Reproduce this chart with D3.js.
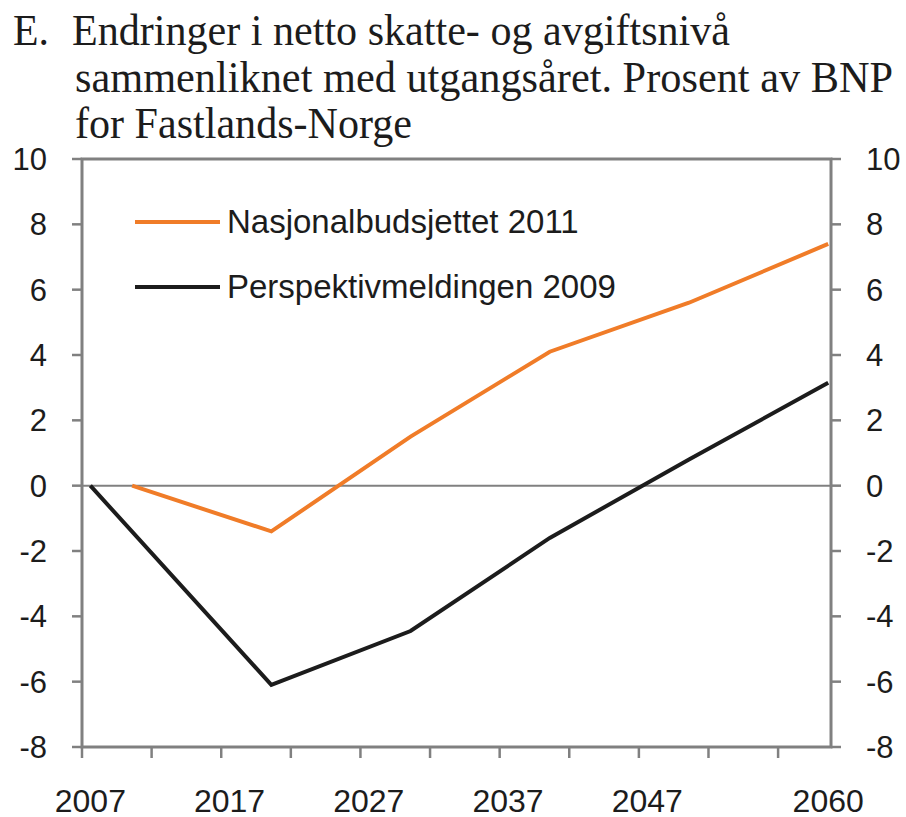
<!DOCTYPE html>
<html>
<head>
<meta charset="utf-8">
<script src="https://cdn.jsdelivr.net/npm/d3@7"></script>
<style>
  body { margin: 0; background: #fff; }
  svg { display: block; }
</style>
</head>
<body>
<svg id="chart" width="906" height="817"></svg>
<script>
// data
var years = [2007, 2010, 2020, 2030, 2040, 2050, 2060];
var nasjonalbudsjettet2011 = [null, 0, -1.4, 1.5, 4.1, 5.6, 7.4];
var perspektivmeldingen2009 = [0, null, -6.1, -4.45, -1.6, 0.8, 3.15];
var yTicks = [-8, -6, -4, -2, 0, 2, 4, 6, 8, 10];
var xLabels = [2007, 2017, 2027, 2037, 2047, 2060];
var seriesNames = ["Nasjonalbudsjettet 2011", "Perspektivmeldingen 2009"];
var titleLines = ["Endringer i netto skatte- og avgiftsnivå",
                  "sammenliknet med utgangsåret. Prosent av BNP",
                  "for Fastlands-Norge"];

var plotL = 82, plotR = 831, plotT = 159, plotB = 747;
var grey = "#808080", ink = "#1c1c1c", orange = "#f07c28";

var svg = d3.select("#chart");

var x = d3.scaleLinear().domain([2006.4, 2060.2]).range([plotL, plotR]);
var y = d3.scaleLinear().domain([-8, 10]).range([plotB, plotT]);

// title (condensed serif)
var title = svg.append("g").attr("font-family", "'Liberation Serif', 'Times New Roman', serif")
  .attr("font-size", 45).attr("fill", ink);
title.append("text").attr("x", 13).attr("y", 45)
  .attr("textLength", 36).attr("lengthAdjust", "spacingAndGlyphs").text("E.");
var titleWidths = [658, 818, 337];
titleLines.forEach(function(t, i) {
  title.append("text")
    .attr("x", i == 0 ? 72 : 75)
    .attr("y", 45 + i * 46.5)
    .attr("textLength", titleWidths[i])
    .attr("lengthAdjust", "spacingAndGlyphs")
    .text(t);
});

// zero line
svg.append("line")
  .attr("x1", plotL).attr("x2", plotR)
  .attr("y1", y(0)).attr("y2", y(0))
  .attr("stroke", grey).attr("stroke-width", 2);

// frame
svg.append("rect")
  .attr("x", plotL).attr("y", plotT)
  .attr("width", plotR - plotL).attr("height", plotB - plotT)
  .attr("fill", "none").attr("stroke", grey).attr("stroke-width", 3);

// y ticks + labels on both sides
var labels = svg.append("g").attr("font-family", "'Liberation Sans', Arial, sans-serif")
  .attr("font-size", 31).attr("fill", ink);
yTicks.forEach(function(v) {
  svg.append("line").attr("x1", plotL - 10).attr("x2", plotL)
    .attr("y1", y(v)).attr("y2", y(v)).attr("stroke", grey).attr("stroke-width", 2.5);
  svg.append("line").attr("x1", plotR).attr("x2", plotR + 10)
    .attr("y1", y(v)).attr("y2", y(v)).attr("stroke", grey).attr("stroke-width", 2.5);
  labels.append("text").attr("x", 47).attr("y", y(v) + 11).attr("text-anchor", "end").text(v);
  labels.append("text").attr("x", 866).attr("y", y(v) + 11).attr("text-anchor", "start").text(v);
});

// x ticks every ~5 years
d3.range(0, 11).forEach(function(k) {
  var xv = x(2006.4 + 5 * k);
  svg.append("line").attr("x1", xv).attr("x2", xv)
    .attr("y1", plotB).attr("y2", plotB + 11)
    .attr("stroke", grey).attr("stroke-width", 2.5);
});
labels.selectAll(".xlab").data(xLabels).enter().append("text")
  .attr("class", "xlab")
  .attr("x", function(d) { return x(d); })
  .attr("y", 812)
  .attr("font-size", 32)
  .attr("text-anchor", "middle")
  .text(function(d) { return d; });

// series lines - missing years are skipped, not broken
var line = d3.line()
  .x(function(d) { return x(d[0]); })
  .y(function(d) { return y(d[1]); });

function pairs(vals) {
  return years.map(function(yr, i) { return [yr, vals[i]]; })
    .filter(function(d) { return d[1] != null; });
}

svg.append("path")
  .datum(pairs(perspektivmeldingen2009))
  .attr("d", line).attr("fill", "none").attr("stroke", ink)
  .attr("stroke-width", 4).attr("stroke-linejoin", "miter");

svg.append("path")
  .datum(pairs(nasjonalbudsjettet2011))
  .attr("d", line).attr("fill", "none").attr("stroke", orange)
  .attr("stroke-width", 4).attr("stroke-linejoin", "miter");

// legend
var legend = svg.append("g").attr("font-family", "'Liberation Sans', Arial, sans-serif")
  .attr("font-size", 33).attr("fill", ink);
[orange, ink].forEach(function(c, i) {
  var ly = 222 + i * 65;
  legend.append("line").attr("x1", 135).attr("x2", 220)
    .attr("y1", ly).attr("y2", ly).attr("stroke", c).attr("stroke-width", 4);
  legend.append("text").attr("x", 227).attr("y", ly + 11).text(seriesNames[i]);
});
</script>
</body>
</html>
